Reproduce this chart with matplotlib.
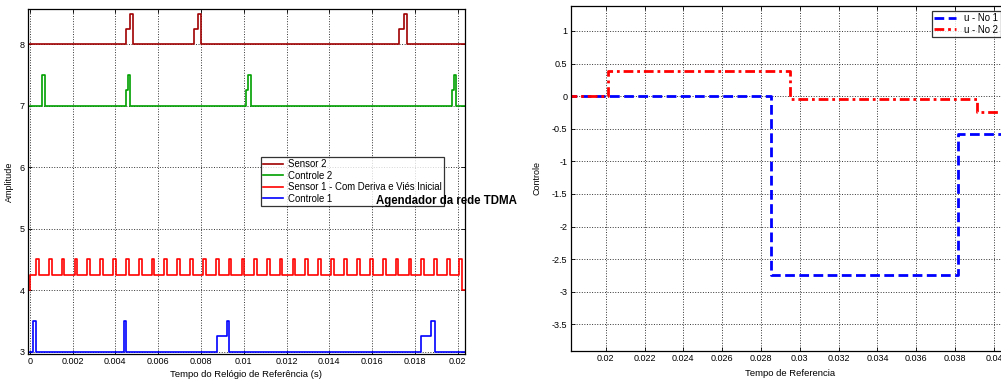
import matplotlib
matplotlib.use("Agg")
import matplotlib.pyplot as plt

plt.rcParams['font.family'] = ['Liberation Sans', 'DejaVu Sans']

# painel esquerdo - agendador TDMA (degraus, t em s)
sensor2_t = [0, 0.00449, 0.00469, 0.00483, 0.00768, 0.00788, 0.00800, 0.01727, 0.01749, 0.01762, 0.0204]
sensor2_v = [8, 8.25, 8.5, 8, 8.25, 8.5, 8, 8.25, 8.5, 8, 8]

controle2_t = [0, 0.00059, 0.00071, 0.00449, 0.00458, 0.00470, 0.01011, 0.01020, 0.01036, 0.01975, 0.01983, 0.01994, 0.0204]
controle2_v = [7, 7.5, 7, 7.25, 7.5, 7, 7.25, 7.5, 7, 7.25, 7.5, 7, 7]

controle1_t = [0, 0.00015, 0.00029, 0.00441, 0.00450, 0.00874, 0.00920, 0.00931, 0.01830, 0.01877, 0.01893, 0.0204]
controle1_v = [3, 3.5, 3, 3.5, 3, 3.25, 3.5, 3, 3.25, 3.5, 3, 3]

# sensor 1: instantes de subida dos pulsos (nivel 4.25 -> 4.5)
sensor1_pulsos = [0.00030, 0.00090, 0.00150, 0.00210, 0.00270, 0.00330, 0.00391, 0.00450,
                  0.00511, 0.00570, 0.00629, 0.00690, 0.00751, 0.00810, 0.00871, 0.00930,
                  0.00990, 0.01048, 0.01109, 0.01168, 0.01229, 0.01288, 0.01349, 0.01410,
                  0.01469, 0.01530, 0.01590, 0.01651, 0.01710, 0.01771, 0.01830, 0.01891,
                  0.01952, 0.02008]
sensor1_largura = 0.00012
sensor1_inicio = [(0, 4), (0.00002, 4.25)]
sensor1_fim = [(0.02022, 4), (0.0204, 4)]

# painel direito - controle
u1_t = [0.018, 0.02852, 0.03813, 0.042]
u1_v = [0, -2.75, -0.585, -0.585]
u2_t = [0.018, 0.02013, 0.02950, 0.03913, 0.042]
u2_v = [0, 0.39, -0.046, -0.24, -0.24]

s1_t = [p[0] for p in sensor1_inicio]
s1_v = [p[1] for p in sensor1_inicio]
for r in sensor1_pulsos:
    s1_t += [r, r + sensor1_largura]
    s1_v += [4.5, 4.25]
s1_t += [p[0] for p in sensor1_fim]
s1_v += [p[1] for p in sensor1_fim]

W, H = 1001, 379
fig = plt.figure(figsize=(W / 100, H / 100), dpi=100)


def estilo(ax):
    ax.grid(True, linestyle=':', color='0.2', linewidth=0.7)
    ax.tick_params(direction='in', length=3, width=0.6, labelsize=6.5, top=True, right=True, pad=2.5)
    for s in ax.spines.values():
        s.set_linewidth(0.9)


ax1 = fig.add_axes([28 / W, 1 - 354 / H, (465 - 28) / W, (354 - 9) / H])
ax1.plot(sensor2_t, sensor2_v, drawstyle='steps-post', color='#a00000', lw=1.2, label='Sensor 2')
ax1.plot(controle2_t, controle2_v, drawstyle='steps-post', color='#00a000', lw=1.2, label='Controle 2')
ax1.plot(s1_t, s1_v, drawstyle='steps-post', color='#ff0000', lw=1.2, label='Sensor 1 - Com Deriva e Viés Inicial')
ax1.plot(controle1_t, controle1_v, drawstyle='steps-post', color='#0000ff', lw=1.2, label='Controle 1')
ax1.set_xlim(-0.00008, 0.02034)
ax1.set_ylim(2.96, 8.575)
ax1.set_xticks([0, 0.002, 0.004, 0.006, 0.008, 0.01, 0.012, 0.014, 0.016, 0.018, 0.02])
ax1.set_xticklabels(['0', '0.002', '0.004', '0.006', '0.008', '0.01', '0.012', '0.014', '0.016', '0.018', '0.02'])
ax1.set_yticks([3, 4, 5, 6, 7, 8])
estilo(ax1)
ax1.set_xlabel('Tempo do Relógio de Referência (s)', fontsize=6.8)
ax1.xaxis.set_label_coords(0.5, -0.045)
ax1.set_ylabel('Amplitude', fontsize=6.5)
ax1.yaxis.set_label_coords(-0.032, 0.5)
leg1 = ax1.legend(loc='upper left', bbox_to_anchor=((261 - 28) / 437, (354 - 157) / 345),
                  fontsize=6.9, frameon=True, fancybox=False, edgecolor='black',
                  handlelength=2.0, handletextpad=0.6, borderpad=0.25, labelspacing=0.15,
                  borderaxespad=0)
leg1.get_frame().set_linewidth(0.9)
fig.text(446 / W, 1 - 201 / H, 'Agendador da rede TDMA', fontsize=8.3, fontweight='bold',
         ha='center', va='center')

ax2 = fig.add_axes([571 / W, 1 - 351 / H, 452 / W, (351 - 6) / H])
l1, = ax2.plot(u1_t, u1_v, drawstyle='steps-post', color='#0000ff', lw=2.0, label='u - No 1')
l1.set_dashes((3.5, 1.6))
l2, = ax2.plot(u2_t, u2_v, drawstyle='steps-post', color='#ff0000', lw=2.0, label='u - No 2')
l2.set_dashes((3.5, 1.4, 1, 1.4))
ax2.set_xlim(0.01821, 0.0415)
ax2.set_ylim(-3.91, 1.383)
ax2.set_xticks([0.02, 0.022, 0.024, 0.026, 0.028, 0.03, 0.032, 0.034, 0.036, 0.038, 0.04])
ax2.set_xticklabels(['0.02', '0.022', '0.024', '0.026', '0.028', '0.03', '0.032', '0.034', '0.036', '0.038', '0.04'])
ax2.set_yticks([-3.5, -3, -2.5, -2, -1.5, -1, -0.5, 0, 0.5, 1])
ax2.set_yticklabels(['-3.5', '-3', '-2.5', '-2', '-1.5', '-1', '-0.5', '0', '0.5', '1'])
estilo(ax2)
ax2.set_xlabel('Tempo de Referencia', fontsize=6.8)
ax2.xaxis.set_label_coords((790 - 571) / 452, -0.052)
ax2.set_ylabel('Controle', fontsize=6.5)
ax2.yaxis.set_label_coords((541 - 571) / 452, 0.5)
leg2 = fig.legend(handles=[l1, l2], loc='upper left', bbox_to_anchor=(932 / W, 1 - 11 / H),
                  fontsize=6.9, frameon=True, fancybox=False, edgecolor='black',
                  handlelength=2.3, handletextpad=0.8, borderpad=0.25, labelspacing=0.15,
                  borderaxespad=0)
leg2.get_frame().set_linewidth(0.9)

fig.savefig('out.png', dpi=100)
